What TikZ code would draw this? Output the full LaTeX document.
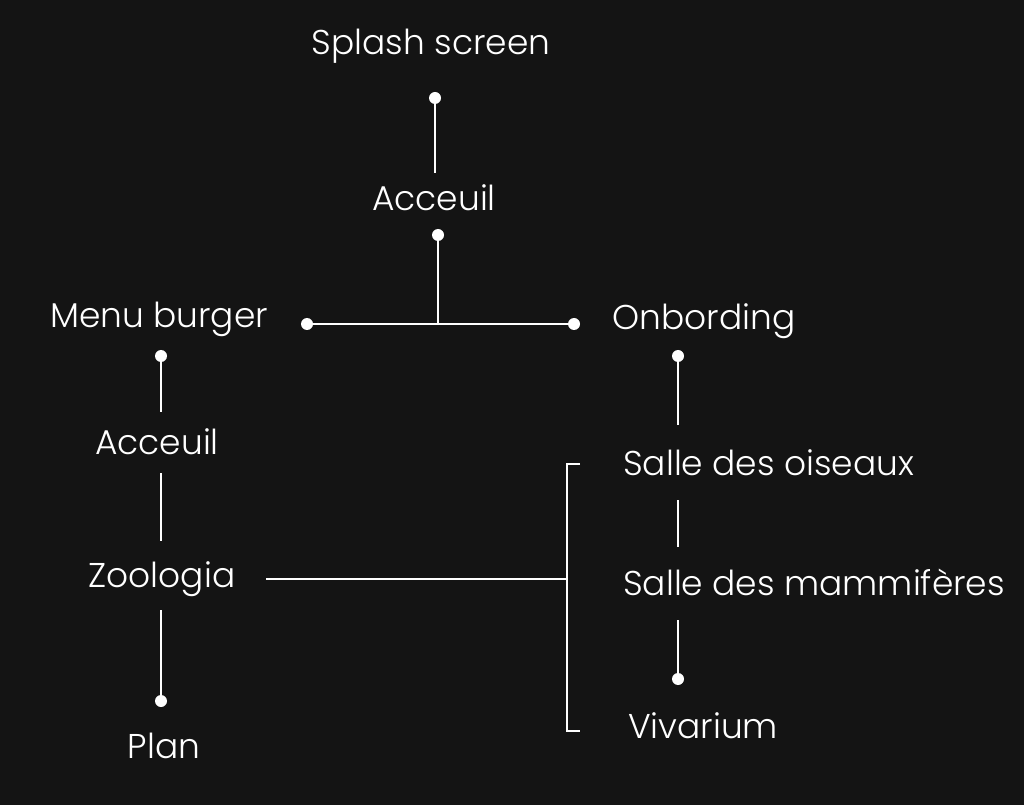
\documentclass[tikz,border=0pt]{standalone}
\usepackage{fontspec}
\setmainfont{Poppins Light}
\definecolor{bgc}{HTML}{141414}
\begin{document}
\begin{tikzpicture}[x=0.75pt,y=-0.75pt,
  lbl/.style={text=white,inner sep=0pt,font=\fontsize{25.8}{30}\selectfont},
  ln/.style={draw=white,line width=1.5pt},
  dotc/.style={circle,fill=white,inner sep=0pt,minimum size=9pt}]
\fill[bgc] (0,0) rectangle (1024,805);
\useasboundingbox (0,0) rectangle (1024,805);
% labels
\node[lbl,anchor=base] (splash) at (431,55) {Splash screen};
\node[lbl,anchor=base] (acc1) at (434,211) {Acceuil};
\node[lbl,anchor=base] (menu) at (159,328) {Menu burger};
\node[lbl,anchor=base] (onb) at (704,330) {Onbording};
\node[lbl,anchor=base] (acc2) at (157,454) {Acceuil};
\node[lbl,anchor=base] (zoo) at (162,587) {Zoologia};
\node[lbl,anchor=base] (plan) at (164,758) {Plan};
\node[lbl,anchor=base west] (ois) at (623,475) {Salle des oiseaux};
\node[lbl,anchor=base west] (mam) at (623,595) {Salle des mammifères};
\node[lbl,anchor=base west] (viv) at (628,738) {Vivarium};
% dots
\node[dotc] (d1) at (435,98) {};
\node[dotc] (d2) at (438,235) {};
\node[dotc] (d3) at (307,324) {};
\node[dotc] (d4) at (574,324) {};
\node[dotc] (d5) at (161,356) {};
\node[dotc] (d6) at (161,701) {};
\node[dotc] (d7) at (678,356) {};
\node[dotc] (d8) at (678,679) {};
% coordinates
\coordinate (e1) at (435,173);
\coordinate (j1) at (438,324);
\coordinate (e5) at (161,412);
\coordinate (a2t) at (161,473);
\coordinate (a2b) at (161,541);
\coordinate (z1) at (161,610);
\coordinate (e7) at (678,425);
\coordinate (o1) at (678,500);
\coordinate (o2) at (678,547);
\coordinate (m1) at (678,620);
\coordinate (zr) at (266,579);
\coordinate (bj) at (567,579);
\coordinate (bt) at (580,464);
\coordinate (bb) at (580,731);
% connectors
\draw[ln] (d1.center) -- (e1);
\draw[ln] (d2.center) -- (j1);
\draw[ln] (d3.center) -- (d4.center);
\draw[ln] (d5.center) -- (e5);
\draw[ln] (a2t) -- (a2b);
\draw[ln] (z1) -- (d6.center);
\draw[ln] (d7.center) -- (e7);
\draw[ln] (o1) -- (o2);
\draw[ln] (m1) -- (d8.center);
\draw[ln] (zr) -- (bj);
\draw[ln] (bt) -| (bj |- bb) -- (bb);
\end{tikzpicture}
\end{document}
